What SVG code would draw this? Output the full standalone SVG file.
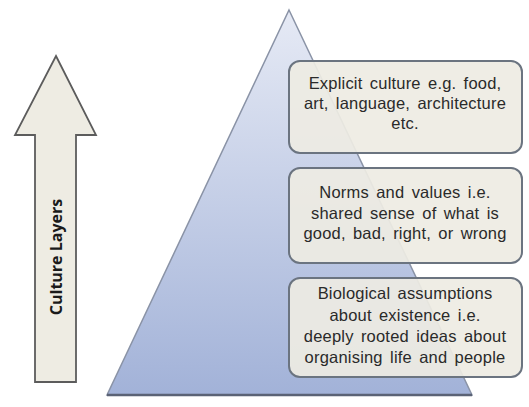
<svg xmlns="http://www.w3.org/2000/svg" width="529" height="407" viewBox="0 0 529 407">
<defs>
<linearGradient id="tri" x1="0" y1="0" x2="0" y2="1">
<stop offset="0" stop-color="#e6eaf5"/>
<stop offset="1" stop-color="#a2b2d8"/>
</linearGradient>
<style>
.box{fill:#eeece3;fill-opacity:0.92;stroke:#6b7480;stroke-width:2}
.t{font-family:"Liberation Sans",Arial,sans-serif;font-size:16.5px;word-spacing:2.5px;letter-spacing:0.2px;fill:#2a2a2a;text-anchor:middle}
</style>
</defs>
<rect width="529" height="407" fill="#ffffff"/>
<g id="arrow">
<path d="M56,56 L96,135 L76,135 L76,382 L35,382 L35,135 L15,135 Z" fill="#eeece3" stroke="#5c5c5c" stroke-width="1.8" stroke-linejoin="miter"/>
<text x="0" y="0" transform="translate(62,257) rotate(-90)" font-family="'Open Sans','Liberation Sans',sans-serif" font-size="16" font-weight="bold" fill="#1a1a1a" text-anchor="middle">Culture Layers</text>
</g>
<g id="pyramid">
<path d="M289,10 L472,395 L107,395 Z" fill="url(#tri)" stroke="#8a93a6" stroke-width="1.5"/>
<line x1="107" y1="395" x2="472" y2="395" stroke="#5a6275" stroke-width="2.5"/>
</g>
<g id="box1">
<rect class="box" x="289" y="61" width="233" height="92" rx="11"/>
<text class="t" x="405" y="89">Explicit culture e.g. food,</text>
<text class="t" x="405" y="109">art, language, architecture</text>
<text class="t" x="405" y="129">etc.</text>
</g>
<g id="box2">
<rect class="box" x="289" y="168" width="233" height="95" rx="11"/>
<text class="t" x="405" y="198">Norms and values i.e.</text>
<text class="t" x="405" y="219">shared sense of what is</text>
<text class="t" x="405" y="239">good, bad, right, or wrong</text>
</g>
<g id="box3">
<rect class="box" x="289" y="278" width="233" height="99" rx="11"/>
<text class="t" x="405" y="299">Biological assumptions</text>
<text class="t" x="405" y="321">about existence  i.e.</text>
<text class="t" x="405" y="342">deeply rooted ideas about</text>
<text class="t" x="405" y="363">organising life and people</text>
</g>
</svg>
